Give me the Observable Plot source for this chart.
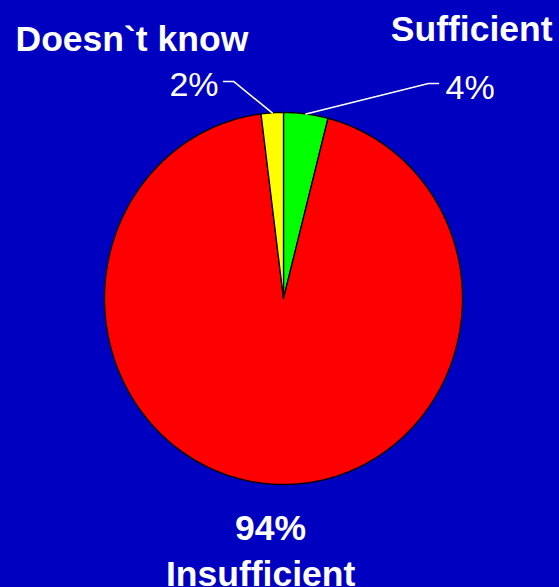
<!DOCTYPE html>
<html>
<head>
<meta charset="utf-8">
<script src="https://cdn.jsdelivr.net/npm/d3@7"></script>
<script src="https://cdn.jsdelivr.net/npm/@observablehq/plot@0.6"></script>
<style>
  html, body { margin: 0; padding: 0; background: #0000c0; }
  #chart svg { display: block; background: linear-gradient(#0000cc, #0000b2); }
</style>
</head>
<body>
<div id="chart"></div>
<script>
// Data (clockwise from 12 o'clock)
const categories = ["Sufficient", "Insufficient", "Doesn`t know"];
const values = [4, 94, 2];
const valueLabels = ["4%", "94%", "2%"];
const colors = ["#00ff00", "#ff0000", "#ffff00"];

// Build slice polygons from the values (angles in degrees, clockwise from top)
const total = d3.sum(values);
let acc = 0;
const slices = values.map((v, i) => {
  const a0 = acc / total * 360;
  acc += v;
  const a1 = acc / total * 360;
  const pts = [{x: 0, y: 0}];
  const n = Math.max(2, Math.ceil(a1 - a0));
  for (let k = 0; k <= n; k++) {
    const a = (a0 + (a1 - a0) * k / n) * Math.PI / 180;
    pts.push({x: Math.sin(a), y: Math.cos(a)});
  }
  pts.push({x: 0, y: 0});
  return {category: categories[i], color: colors[i], pts, mid: (a0 + a1) / 2};
});

function onArc(deg) {
  const a = deg * Math.PI / 180;
  return {x: Math.sin(a), y: Math.cos(a)};
}

// Leader lines from small slice midpoints to their labels
const yellow = slices[2], green = slices[0];
const leader2 = [onArc(yellow.mid - 360), {x: -0.279, y: 1.167}, {x: -0.335, y: 1.167}];
const leader4 = [onArc(green.mid), {x: 0.810, y: 1.156}, {x: 0.866, y: 1.156}];

const font = "Liberation Sans, Arial, Helvetica, sans-serif";

const textsStart = [
  {t: categories[2], x: -1.497, y: 1.333, bold: true},
  {t: valueLabels[0], x: 0.905, y: 1.070, bold: false}
];
const textsEnd = [
  {t: categories[0], x: 1.503, y: 1.382, bold: true},
  {t: valueLabels[2], x: -0.363, y: 1.091, bold: false}
];
const textsMiddle = [
  {t: categories[1], x: -0.128, y: -1.545, bold: true},
  {t: valueLabels[1], x: -0.073, y: -1.301, bold: true}
];

function labels(data, anchor) {
  return [
    Plot.text(data.filter(d => d.bold), {x: "x", y: "y", text: "t", textAnchor: anchor, lineAnchor: "bottom", fill: "white", fontWeight: "bold", fontSize: 35.5}),
    Plot.text(data.filter(d => !d.bold), {x: "x", y: "y", text: "t", textAnchor: anchor, lineAnchor: "bottom", fill: "white", fontSize: 34})
  ];
}

const plot = Plot.plot({
  width: 559,
  height: 587,
  margin: 0,
  x: {domain: [-1, 1], range: [104, 462], axis: null},
  y: {domain: [-1, 1], range: [484, 112], axis: null},
  style: {fontFamily: font, background: "transparent"},
  marks: [
    ...slices.map(s => Plot.line(s.pts, {x: "x", y: "y", fill: s.color, stroke: "black", strokeWidth: 1.3, strokeLinejoin: "round"})),
    Plot.line(leader2, {x: "x", y: "y", stroke: "white", strokeWidth: 1.5}),
    Plot.line(leader4, {x: "x", y: "y", stroke: "white", strokeWidth: 1.5}),
    ...labels(textsStart, "start"),
    ...labels(textsEnd, "end"),
    ...labels(textsMiddle, "middle")
  ]
});
document.getElementById("chart").appendChild(plot);
</script>
</body>
</html>
